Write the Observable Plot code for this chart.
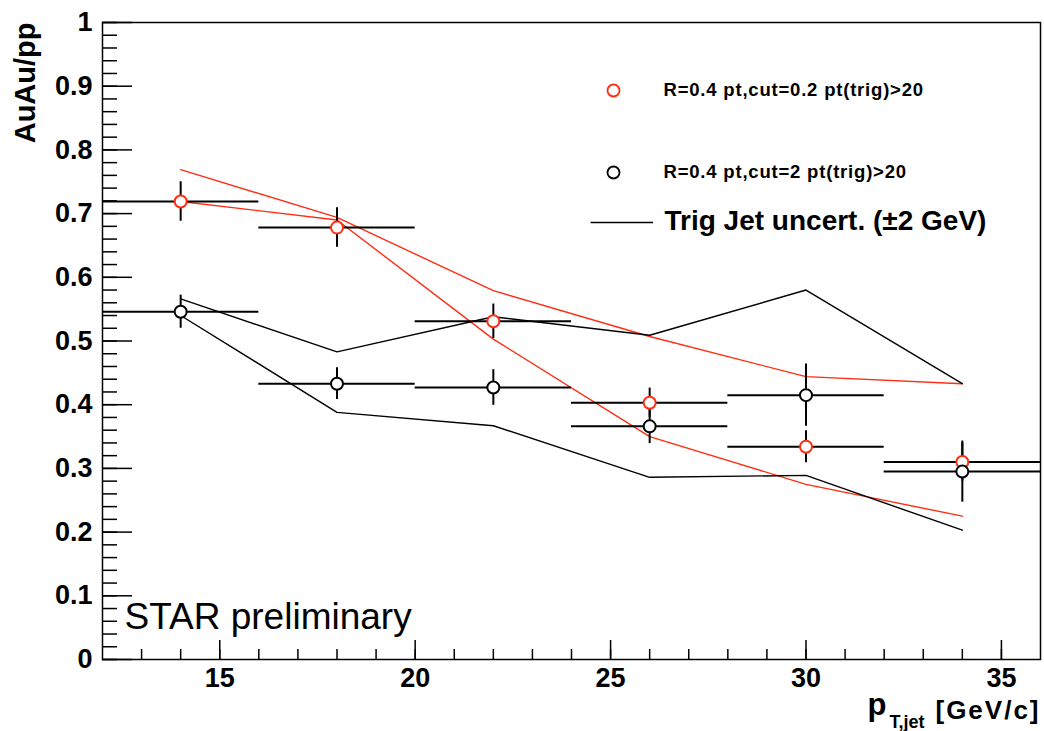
<!DOCTYPE html>
<html><head><meta charset="utf-8">
<script src="https://cdn.jsdelivr.net/npm/d3@7"></script>
<script src="https://cdn.jsdelivr.net/npm/@observablehq/plot@0.6"></script>
<style>html,body{margin:0;padding:0;background:#fff}</style>
</head><body><div id="chart"></div>
<script>
// ---- data ----
const binCenters = [14, 18, 22, 26, 30, 34];
const binHalfWidth = 2;
const ratioCut02 = [0.719, 0.678, 0.531, 0.403, 0.334, 0.310];
const errCut02   = [0.031, 0.031, 0.027, 0.023, 0.025, 0.030];
const ratioCut2  = [0.546, 0.433, 0.427, 0.366, 0.415, 0.295];
const errCut2    = [0.026, 0.025, 0.028, 0.027, 0.049, 0.048];
const trigUpCut02  = [0.769, 0.694, 0.579, 0.507, 0.444, 0.433];
const trigLowCut02 = [0.719, 0.690, 0.503, 0.350, 0.275, 0.225];
const trigUpCut2   = [0.566, 0.483, 0.538, 0.509, 0.580, 0.433];
const trigLowCut2  = [0.540, 0.388, 0.367, 0.286, 0.289, 0.203];
const yTickLabels = [0, 0.1, 0.2, 0.3, 0.4, 0.5, 0.6, 0.7, 0.8, 0.9, 1];
const xTickLabels = [15, 20, 25, 30, 35];
const yMinorTicks = d3.range(0, 51).map(i => i / 50);
const xMinorTicks = d3.range(13, 36);
const legendLabels = ["R=0.4 pt,cut=0.2 pt(trig)>20", "R=0.4 pt,cut=2 pt(trig)>20", "Trig Jet uncert. (\u00b12 GeV)"];

// ---- layout ----
const W = 1044, H = 731;
const mL = 102, mR = 4, mT = 22, mB = 72;
const fw = W - mL - mR, fh = H - mT - mB;
const RED = "#ff2d12";
const FONT = "'Liberation Sans', Arial, Helvetica, sans-serif";

const series = [
  {key: "cut02", color: RED, vals: ratioCut02, errs: errCut02, up: trigUpCut02, low: trigLowCut02},
  {key: "cut2", color: "black", vals: ratioCut2, errs: errCut2, up: trigUpCut2, low: trigLowCut2}
];
const points = series.flatMap(s => binCenters.map((x, i) => ({x, y: s.vals[i], e: s.errs[i], color: s.color})));
const trig = series.flatMap(s => [["up", s.up], ["low", s.low]].flatMap(([b, arr]) =>
  binCenters.map((x, i) => ({x, y: arr[i], id: s.key + b, color: s.color}))));

const plot = Plot.plot({
  width: W, height: H,
  marginLeft: mL, marginRight: mR, marginTop: mT, marginBottom: mB,
  style: {fontFamily: FONT, background: "white", color: "black"},
  x: {domain: [12, 36], axis: null},
  y: {domain: [0, 1], axis: null},
  marks: [
    // uncertainty lines
    Plot.line(trig, {x: "x", y: "y", z: "id", stroke: "color", strokeWidth: 1.4}),
    // error bars
    Plot.ruleY(points, {y: "y", x1: d => d.x - binHalfWidth, x2: d => d.x + binHalfWidth, stroke: "black", strokeWidth: 2}),
    Plot.ruleX(points, {x: "x", y1: d => d.y - d.e, y2: d => d.y + d.e, stroke: "black", strokeWidth: 2}),
    // markers
    Plot.dot(points, {x: "x", y: "y", r: 6, stroke: "color", fill: "white", strokeWidth: 2}),
    // ticks (inside)
    Plot.tickY(yMinorTicks, {y: d => d, insetRight: fw - 15, stroke: "black", strokeWidth: 1.5}),
    Plot.tickY(yTickLabels, {y: d => d, insetRight: fw - 30, stroke: "black", strokeWidth: 1.5}),
    Plot.tickX(xMinorTicks, {x: d => d, insetTop: fh - 10, stroke: "black", strokeWidth: 1.5}),
    Plot.tickX(xTickLabels, {x: d => d, insetTop: fh - 19, stroke: "black", strokeWidth: 1.5}),
    Plot.frame({stroke: "black", strokeWidth: 1.5}),
    // tick labels
    Plot.text(yTickLabels, {y: d => d, frameAnchor: "left", dx: -10, textAnchor: "end", lineAnchor: "middle",
      text: d => String(+d.toFixed(1)), fontSize: 27, fontWeight: "bold"}),
    Plot.text(xTickLabels, {x: d => d, frameAnchor: "bottom", dy: 8, lineAnchor: "top",
      text: d => String(d), fontSize: 27, fontWeight: "bold"}),
    // axis titles
    Plot.text(["AuAu/pp"], {frameAnchor: "top-left", dx: 25 - mL, dy: 0, rotate: -90, textAnchor: "end",
      lineAnchor: "middle", text: d => d, fontSize: 29, fontWeight: "bold"}),
    Plot.text(["p"], {frameAnchor: "bottom-right", dx: 867 - (W - mR), dy: 714 - (H - mB), textAnchor: "start",
      lineAnchor: "bottom", text: d => d, fontSize: 31, fontWeight: "bold"}),
    Plot.text(["T,jet"], {frameAnchor: "bottom-right", dx: 889 - (W - mR), dy: 727 - (H - mB), textAnchor: "start",
      lineAnchor: "bottom", text: d => d, fontSize: 18, fontWeight: "bold"}),
    Plot.text(["[GeV/c]"], {frameAnchor: "bottom-right", dx: 0, dy: 718 - (H - mB), textAnchor: "end",
      lineAnchor: "bottom", text: d => d, fontSize: 26, fontWeight: "bold"}),
    // STAR preliminary
    Plot.text(["STAR preliminary"], {frameAnchor: "top-left", dx: 124 - mL, dy: 628 - mT, textAnchor: "start",
      lineAnchor: "bottom", text: d => d, fontSize: 37}),
    // legend
    Plot.dot([0], {frameAnchor: "top-left", dx: 613 - mL, dy: 90 - mT, r: 6, stroke: RED, strokeWidth: 1.8, fill: "white"}),
    Plot.dot([0], {frameAnchor: "top-left", dx: 613 - mL, dy: 172 - mT, r: 6, stroke: "black", strokeWidth: 1.8, fill: "white"}),
    Plot.text([legendLabels[0]], {frameAnchor: "top-left", dx: 663 - mL, dy: 90 - mT, textAnchor: "start",
      lineAnchor: "middle", text: d => d, fontSize: 18.5, fontWeight: "bold"}),
    Plot.text([legendLabels[1]], {frameAnchor: "top-left", dx: 663 - mL, dy: 172 - mT, textAnchor: "start",
      lineAnchor: "middle", text: d => d, fontSize: 18.5, fontWeight: "bold"}),
    Plot.ruleY([0.686], {y: d => d, x1: 24.5, x2: 26.1, stroke: "black", strokeWidth: 1.5}),
    Plot.text([legendLabels[2]], {frameAnchor: "top-left", dx: 664 - mL, dy: 221 - mT, textAnchor: "start",
      lineAnchor: "middle", text: d => d, fontSize: 28, fontWeight: "bold"})
  ]
});
// spacing tweaks to match the wider glyphs of the original rendering
d3.select(plot).selectAll("text").each(function() {
  const t = this.textContent;
  if (t.startsWith("R=0.4")) this.setAttribute("letter-spacing", "0.8px");
  if (t === "[GeV/c]") this.setAttribute("letter-spacing", "2px");
});
document.getElementById("chart").appendChild(plot);
</script>
</body></html>
